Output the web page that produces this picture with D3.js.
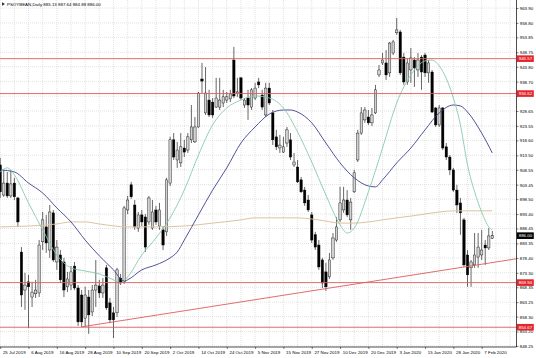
<!DOCTYPE html>
<html><head><meta charset="utf-8">
<script src="https://cdn.jsdelivr.net/npm/d3@7/dist/d3.min.js"></script>
<style>html,body{margin:0;padding:0;background:#fff;overflow:hidden}svg{display:block}text{font-family:"Liberation Sans",Arial,sans-serif}</style>
</head><body><svg id="c" width="536" height="358"></svg>
<script>
const title = "PSOYBEAN,Daily  885.13 887.64 884.88 886.00";
const opens = [910.2,899.9,904.0,899.6,904.0,898.9,880.4,867.4,870.2,865.0,866.1,866.4,883.9,889.0,881.1,893.8,877.0,879.4,877.0,868.5,
869.1,875.6,868.1,865.7,857.8,865.0,859.9,867.4,868.8,866.4,875.0,863.0,859.6,859.6,871.5,870.2,894.8,903.4,896.5,888.6,
893.1,892.4,890.7,888.6,894.8,889.3,888.0,887.3,904.0,918.8,911.9,910.9,916.0,915.3,918.8,918.1,923.2,939.6,928.0,932.4,
931.7,930.0,930.0,931.4,932.4,932.8,946.1,934.8,940.0,930.7,933.1,930.0,933.1,938.6,934.1,927.3,936.5,928.0,919.8,916.0,
914.6,917.7,918.8,910.2,909.5,905.1,901.6,898.2,893.1,886.3,882.8,877.7,873.6,871.9,878.4,884.5,891.4,894.8,898.2,891.4,
901.0,911.9,921.1,925.6,926.6,924.6,928.0,941.0,945.1,945.1,941.7,948.5,955.4,955.7,947.1,938.6,942.7,946.1,942.7,947.1,
947.8,941.7,942.0,929.7,923.9,929.7,916.4,912.9,908.5,901.6,897.2,891.4,879.4,875.0,876.0,878.7,879.4,882.8,881.8,885.13];
const highs = [912.6,908.5,907.8,908.5,905.8,899.3,882.1,873.3,872.6,870.2,870.9,884.5,894.1,893.1,896.5,894.8,884.5,881.1,878.4,873.6,
875.6,877.0,869.1,867.4,868.5,867.4,869.1,877.7,870.9,871.5,876.0,864.7,861.6,875.0,872.9,896.2,899.6,904.4,898.2,894.1,
894.8,893.4,899.6,898.2,896.2,897.2,889.3,905.8,919.8,921.1,918.1,921.1,918.8,921.1,930.7,926.6,935.2,945.1,943.7,935.9,
933.1,940.0,940.0,935.9,935.2,935.9,950.6,940.0,940.3,933.1,935.9,936.5,938.3,940.0,935.9,938.3,938.3,929.0,922.2,920.5,
919.8,923.2,921.1,914.3,911.9,906.1,902.7,899.9,894.1,887.3,884.5,878.4,876.7,880.1,886.9,892.4,902.7,902.7,901.6,898.9,
908.5,922.2,930.0,930.0,929.0,929.7,937.6,944.4,948.5,949.5,952.3,953.0,960.5,956.4,948.5,946.8,950.2,947.1,948.5,947.8,
948.5,946.1,942.7,930.0,930.7,930.0,917.7,913.6,909.2,903.4,898.9,892.1,881.1,877.7,886.9,886.9,888.0,884.5,888.6,887.64];
const lows = [898.9,899.3,898.9,898.9,898.2,889.0,861.6,860.6,854.4,861.6,864.7,865.0,881.1,880.1,878.4,877.0,874.3,869.8,865.0,866.7,
867.4,867.4,855.1,854.8,854.8,852.4,858.5,861.6,864.7,864.7,860.6,856.1,851.0,858.2,869.1,869.5,893.4,898.6,888.0,887.3,
889.3,880.4,889.7,888.0,889.7,888.0,881.1,885.9,903.0,911.9,909.2,909.5,912.9,914.3,917.7,917.7,922.9,934.8,927.3,926.6,
926.3,929.7,929.0,930.0,931.4,931.7,933.1,933.5,932.4,929.7,925.6,929.0,932.4,936.5,929.0,926.6,930.7,917.0,915.3,914.3,
914.3,916.4,911.9,909.5,904.0,900.6,896.2,894.1,883.5,881.1,874.3,868.1,867.1,871.2,877.7,883.9,890.7,893.8,892.4,888.0,
900.6,911.2,920.5,924.6,923.9,923.5,927.6,940.3,944.4,939.3,940.3,947.8,954.7,941.0,937.6,937.6,938.3,936.9,940.3,935.9,
940.3,938.3,928.0,923.2,923.2,915.3,911.9,906.8,901.0,893.8,886.3,875.3,868.5,868.5,875.0,875.0,877.7,876.0,881.1,884.88];
const closes = [901.0,904.0,899.6,903.7,899.3,890.7,865.7,869.1,868.5,866.7,867.4,882.8,891.4,883.5,894.1,877.7,882.1,870.9,867.4,871.2,
873.6,868.1,856.5,856.5,865.7,858.9,867.4,869.1,866.4,869.1,861.3,857.2,857.2,874.3,869.8,895.5,898.2,899.3,889.0,893.1,
890.7,882.1,898.9,894.1,890.7,894.8,882.8,905.1,918.8,912.9,915.3,916.4,914.6,919.8,923.2,923.2,934.8,938.9,934.8,927.3,
927.3,933.1,932.4,933.5,933.5,934.5,933.8,935.2,933.1,932.4,930.7,935.9,936.5,937.6,930.0,936.5,931.4,918.8,916.4,917.0,
916.4,922.2,912.9,911.2,904.4,901.0,897.2,894.8,884.5,882.1,875.3,869.8,868.5,877.7,885.2,889.0,897.2,898.2,893.1,897.5,
907.5,921.1,928.0,929.0,924.6,927.3,935.9,942.7,946.1,941.0,951.9,952.3,956.4,941.7,938.6,945.1,946.8,943.4,946.1,942.0,
941.7,945.1,928.3,923.9,929.7,916.0,912.9,908.5,901.6,896.5,893.8,876.0,872.6,877.0,879.4,882.1,881.1,881.8,885.9,886.00];

const fastBars = [0,2,4,8,12,16,20,24,28,32,34,36,40,44,48,52,56,60,64,68,72,76,80,84,88,92,96,98,100,104,108,112,116,120,122,124,128,130,132,134,136,138,139];
const fastVals = [907.8,909.2,906.8,897.2,888.0,879.4,875.0,873.9,872.9,870.9,869.8,871.9,879.4,885.2,892.1,901.6,913.6,923.9,929.7,932.4,933.8,933.1,929.7,921.5,911.2,899.9,889.7,886.9,888.6,901.0,916.0,931.4,941.0,945.8,946.1,944.1,933.1,923.9,910.2,901.0,894.1,889.0,888.0];
const slowBars = [0,4,8,12,16,20,24,28,32,35,36,40,44,48,50,52,56,60,64,68,72,76,80,82,84,88,92,96,100,104,106,108,112,116,120,124,128,130,132,136,139];
const slowVals = [908.5,907.8,904.0,900.6,895.5,890.7,884.5,879.1,874.3,870.5,870.9,874.3,876.0,878.4,880.4,884.5,893.1,901.6,909.2,917.7,923.2,927.6,929.0,929.0,928.3,924.6,917.7,910.9,905.8,903.0,902.7,905.1,910.9,916.0,922.2,928.0,930.7,930.4,928.3,921.1,914.3];
const longBars = [0,8,16,20,24,28,36,44,52,60,68,72,80,84,88,92,96,100,104,108,112,116,120,124,128,132,136,139];
const longVals = [889.0,889.3,890.0,890.7,890.7,890.0,889.0,889.0,889.3,890.3,891.4,892.1,892.1,892.1,891.7,891.0,890.3,890.3,890.7,891.4,892.1,892.7,893.4,894.1,894.5,894.5,894.5,894.5];

const priceTicks = [963.90,958.80,953.85,948.75,943.80,938.70,933.75,928.65,923.55,918.60,913.50,908.55,903.45,898.50,893.40,888.45,883.35,878.40,873.30,868.35,863.25,858.30,853.20,848.25];
const dateLabels = ["25 Jul 2019","6 Aug 2019","16 Aug 2019","28 Aug 2019","10 Sep 2019","20 Sep 2019","2 Oct 2019","14 Oct 2019","24 Oct 2019","5 Nov 2019","15 Nov 2019","27 Nov 2019","10 Dec 2019","20 Dec 2019","3 Jan 2020","15 Jan 2020","28 Jan 2020","7 Feb 2020"];
const levels = [946.57, 934.62, 869.94, 854.67];
const trendBars = [23, 139];
const trendVals = [854.8, 876.8];
const lastPrice = 886.00;

const svg = d3.select("#c");
const plotRight = 516.5, plotBottom = 347;
const x = d3.scaleLinear().domain([0, 139]).range([0.2, 492.3]);
const y = d3.scaleLinear().domain([848.25, 963.90]).range([346, 8]);
const fs = 4.4;

svg.append("defs").append("clipPath").attr("id","clip")
  .append("rect").attr("x",0).attr("y",0).attr("width",plotRight).attr("height",plotBottom);

// grid
const grid = svg.append("g").attr("stroke","#c4c4c4").attr("stroke-width",0.5).attr("stroke-dasharray","1,1");
grid.selectAll(".gv").data(d3.range(0,146,4)).join("line")
  .attr("x1",d=>x(d)).attr("x2",d=>x(d)).attr("y1",0).attr("y2",plotBottom);
grid.selectAll(".gh").data(priceTicks).join("line")
  .attr("x1",0).attr("x2",plotRight).attr("y1",d=>y(d)).attr("y2",d=>y(d));

const plot = svg.append("g").attr("clip-path","url(#clip)");

// candles
const idx = d3.range(opens.length);
plot.append("g").selectAll("line").data(idx).join("line")
  .attr("x1",i=>x(i)).attr("x2",i=>x(i))
  .attr("y1",i=>y(highs[i])).attr("y2",i=>y(lows[i]))
  .attr("stroke","#000").attr("stroke-width",0.6);
plot.append("g").selectAll("rect").data(idx).join("rect")
  .attr("x",i=>x(i)-1.2).attr("width",2.4)
  .attr("y",i=>y(Math.max(opens[i],closes[i])))
  .attr("height",i=>Math.max(0.6, Math.abs(y(opens[i])-y(closes[i]))))
  .attr("fill",i=>closes[i]>=opens[i] ? "#d2d2d2" : "#000")
  .attr("stroke","#000").attr("stroke-width",0.4);

// moving averages
const mk = (bars, vals) => bars.map((b,i)=>[b, vals[i]]);
const line = d3.line().x(d=>x(d[0])).y(d=>y(d[1])).curve(d3.curveMonotoneX);
plot.append("path").attr("d",line(mk(longBars,longVals))).attr("fill","none").attr("stroke","#dcc3a0").attr("stroke-width",1);
plot.append("path").attr("d",line(mk(slowBars,slowVals))).attr("fill","none").attr("stroke","#3d3f8e").attr("stroke-width",0.9);
plot.append("path").attr("d",line(mk(fastBars,fastVals))).attr("fill","none").attr("stroke","#86cbaa").attr("stroke-width",0.9);

// horizontal levels
plot.append("g").selectAll("line").data(levels).join("line")
  .attr("x1",0).attr("x2",plotRight).attr("y1",d=>y(d)).attr("y2",d=>y(d))
  .attr("stroke","#de5b5b").attr("stroke-width",0.9);

// trend ray
const slope = (trendVals[1]-trendVals[0])/(trendBars[1]-trendBars[0]);
const endBar = x.invert(plotRight);
plot.append("line")
  .attr("x1",x(trendBars[0])).attr("y1",y(trendVals[0]))
  .attr("x2",x(endBar)).attr("y2",y(trendVals[0]+slope*(endBar-trendBars[0])))
  .attr("stroke","#de5b5b").attr("stroke-width",0.9);

// frame
svg.append("line").attr("x1",plotRight).attr("x2",plotRight).attr("y1",0).attr("y2",plotBottom).attr("stroke","#000").attr("stroke-width",0.7);
svg.append("line").attr("x1",0).attr("x2",plotRight).attr("y1",plotBottom).attr("y2",plotBottom).attr("stroke","#000").attr("stroke-width",0.7);

// price axis (labels hidden under a level marker are not printed, as in the reference)
const hidden = v => levels.some(l => Math.abs(y(l)-y(v)) < 3.5);
const ya = svg.append("g").attr("transform",`translate(${plotRight},0)`)
  .call(d3.axisRight(y).tickValues(priceTicks).tickFormat(d=>hidden(d) ? "" : d.toFixed(2)).tickSize(2).tickPadding(1.2));
ya.select(".domain").remove();
ya.selectAll("line").attr("stroke","#000").attr("stroke-width",0.5);
ya.selectAll("text").attr("font-size",fs).attr("fill","#000").attr("font-family","Liberation Sans, Arial, sans-serif");

// date axis
const xa = svg.append("g").attr("transform",`translate(0,${plotBottom})`)
  .call(d3.axisBottom(x).tickValues(d3.range(0,137,8)).tickFormat((d,i)=>dateLabels[i]).tickSize(2).tickPadding(2));
xa.select(".domain").remove();
xa.selectAll("line").attr("stroke","#000").attr("stroke-width",0.5);
xa.selectAll("text").attr("font-size",fs).attr("fill","#000").attr("text-anchor","start").attr("dx",2.2).attr("font-family","Liberation Sans, Arial, sans-serif");

// level labels
const lab = svg.append("g");
levels.forEach(v=>{
  lab.append("rect").attr("x",plotRight+0.3).attr("y",y(v)-3.3).attr("width",17).attr("height",6.6).attr("fill","#e2262b");
  lab.append("text").attr("x",plotRight+2.2).attr("y",y(v)).attr("dy","0.35em").attr("font-size",fs).attr("fill","#fff").text(v.toFixed(2));
});
lab.append("rect").attr("x",plotRight+0.3).attr("y",y(lastPrice)-3.3).attr("width",17).attr("height",6.6).attr("fill","#000");
lab.append("text").attr("x",plotRight+2.2).attr("y",y(lastPrice)).attr("dy","0.35em").attr("font-size",fs).attr("fill","#fff").text(lastPrice.toFixed(2));

// title
svg.append("path").attr("d","M2,2.3 L5,4 L2,5.7 Z").attr("fill","#333");
svg.append("text").attr("x",7).attr("y",5.6).attr("font-size",fs).attr("fill","#000").text(title);
</script></body></html>
